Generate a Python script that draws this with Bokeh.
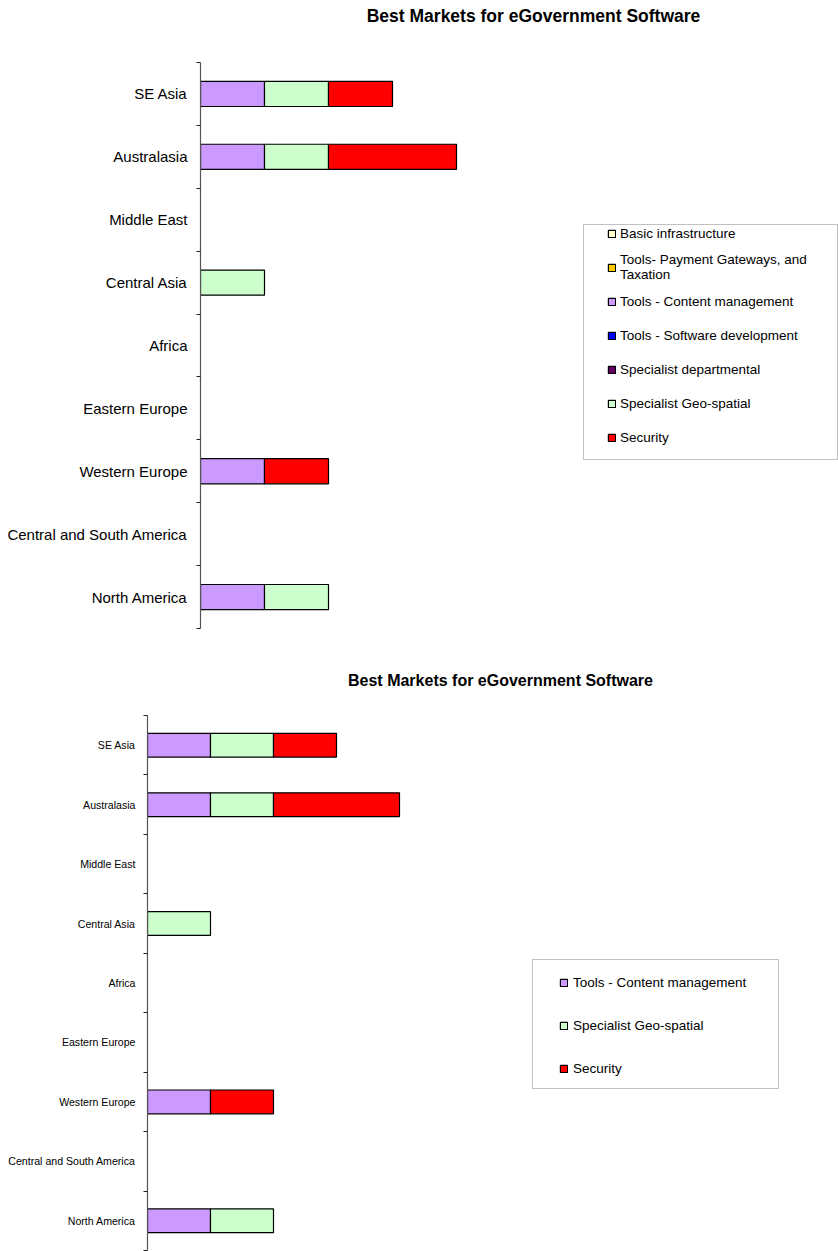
from bokeh.plotting import figure
from bokeh.models import (FixedTicker, Label, Legend, LegendItem, BoxAnnotation,
                          Range1d, CustomJSTickFormatter, ColumnDataSource)
from bokeh.layouts import column
from bokeh.embed import file_html
from bokeh.resources import INLINE

TITLE = "Best Markets for eGovernment Software"

# categories, bottom to top
regions = ["North America", "Central and South America", "Western Europe",
           "Eastern Europe", "Africa", "Central Asia", "Middle East",
           "Australasia", "SE Asia"]

series_names = ["Basic infrastructure",
                "Tools- Payment Gateways, and\nTaxation",
                "Tools - Content management",
                "Tools - Software development",
                "Specialist departmental",
                "Specialist Geo-spatial",
                "Security"]
series_colors = ["#FFFFCC", "#FFCC00", "#CC99FF", "#0000FF", "#660066",
                 "#CCFFCC", "#FF0000"]

basic_infrastructure    = [0, 0, 0, 0, 0, 0, 0, 0, 0]
payment_gateways        = [0, 0, 0, 0, 0, 0, 0, 0, 0]
content_management      = [1, 0, 1, 0, 0, 0, 0, 1, 1]
software_development    = [0, 0, 0, 0, 0, 0, 0, 0, 0]
specialist_departmental = [0, 0, 0, 0, 0, 0, 0, 0, 0]
geo_spatial             = [1, 0, 0, 0, 0, 1, 0, 1, 1]
security                = [0, 0, 1, 0, 0, 0, 0, 2, 1]

series_values = [basic_infrastructure, payment_gateways, content_management,
                 software_development, specialist_departmental, geo_spatial,
                 security]

FONT = "Liberation Sans"
BAR_H = 0.4


def make_chart(height, frame_left, axis_top, axis_bottom, frame_bottom,
               px_per_unit, label_size, label_standoff, title_size, title_cx,
               title_cy, legend_series, box, leg_xy, label_h, spacing,
               legend_size, glyph, standoff):
    width = 838
    n = len(regions)
    frame_w = width - frame_left
    frame_bottom_y = height - frame_bottom          # canvas y of frame bottom
    band = (axis_bottom - axis_top) / n              # px per category
    y0 = -(frame_bottom_y - axis_bottom) / band
    y1 = y0 + frame_bottom_y / band
    p = figure(width=width, height=height, output_backend="svg",
               toolbar_location=None, x_axis_location=None,
               x_range=Range1d(0, frame_w / px_per_unit),
               y_range=Range1d(y0, y1),
               min_border_left=frame_left, min_border_right=0,
               min_border_top=0, min_border_bottom=frame_bottom)
    p.frame_align = False
    p.outline_line_color = None
    p.xgrid.visible = False
    p.ygrid.visible = False
    p.background_fill_color = "white"
    p.border_fill_color = "white"

    ys = [i + 0.5 for i in range(n)]
    cum = [0] * n
    renderers = []
    for name, color, vals in zip(series_names, series_colors, series_values):
        left = list(cum)
        right = [c + v for c, v in zip(cum, vals)]
        cum = right
        hts = [BAR_H if v > 0 else 0 for v in vals]
        src = ColumnDataSource(dict(y=ys, left=left, right=right, h=hts))
        r = p.hbar(y="y", left="left", right="right", height="h", source=src,
                   fill_color=color, line_color="black", line_width=1.2)
        renderers.append(r)

    ax = p.yaxis[0]
    ax.bounds = (0, n)
    ax.ticker = FixedTicker(ticks=ys, minor_ticks=list(range(n + 1)))
    ax.formatter = CustomJSTickFormatter(
        args=dict(names=regions),
        code="return names[Math.floor(tick)] || '';")
    ax.major_tick_line_color = None
    ax.major_tick_out = 0
    ax.major_tick_in = 0
    ax.minor_tick_out = 4
    ax.minor_tick_in = 0
    ax.minor_tick_line_color = "#222222"
    ax.axis_line_color = "#555555"
    ax.axis_line_width = 1.2
    ax.major_label_text_font = FONT
    ax.major_label_text_font_size = f"{label_size}px"
    ax.major_label_text_color = "black"
    ax.major_label_standoff = label_standoff

    t = Label(x=title_cx - frame_left, y=frame_bottom_y - title_cy,
              x_units="screen", y_units="screen", text=TITLE,
              text_font=FONT, text_font_style="bold",
              text_font_size=f"{title_size}px", text_align="center",
              text_baseline="middle", text_color="black")
    p.add_layout(t)

    bl, bt, br, bb = box
    p.add_layout(BoxAnnotation(left=bl - frame_left, right=br - frame_left,
                               top=frame_bottom_y - bt,
                               bottom=frame_bottom_y - bb,
                               left_units="screen", right_units="screen",
                               top_units="screen", bottom_units="screen",
                               fill_color=None, line_color="#333333",
                               line_width=1))

    items = [LegendItem(label=series_names[k], renderers=[renderers[k]], index=0)
             for k in legend_series]
    lx, ly = leg_xy
    leg = Legend(items=items, location=(lx - frame_left, frame_bottom_y - ly),
                 orientation="vertical", border_line_color=None,
                 background_fill_alpha=0, padding=0, margin=0,
                 spacing=spacing, label_height=label_h,
                 glyph_width=glyph, glyph_height=glyph,
                 label_standoff=standoff, label_text_font=FONT,
                 label_text_font_size=f"{legend_size}px",
                 label_text_color="black")
    p.add_layout(leg)
    return p


p1 = make_chart(height=640, frame_left=200, axis_top=62, axis_bottom=628,
                frame_bottom=12, px_per_unit=64, label_size=15,
                label_standoff=9, title_size=17.5, title_cx=533, title_cy=15,
                legend_series=[0, 1, 2, 3, 4, 5, 6],
                box=(583, 224, 837, 459), leg_xy=(607, 453),
                label_h=32, spacing=2, legend_size=13.5, glyph=9, standoff=4)

p2 = make_chart(height=611, frame_left=147, axis_top=75, axis_bottom=610,
                frame_bottom=1, px_per_unit=63, label_size=10.6,
                label_standoff=8, title_size=16, title_cx=500, title_cy=40,
                legend_series=[2, 5, 6],
                box=(532, 959 - 640, 778, 1088 - 640), leg_xy=(559, 1078 - 640),
                label_h=20, spacing=23, legend_size=13.5, glyph=9, standoff=5)

layout = column(p1, p2, spacing=0)
open("out.html", "w").write(file_html(layout, INLINE))
